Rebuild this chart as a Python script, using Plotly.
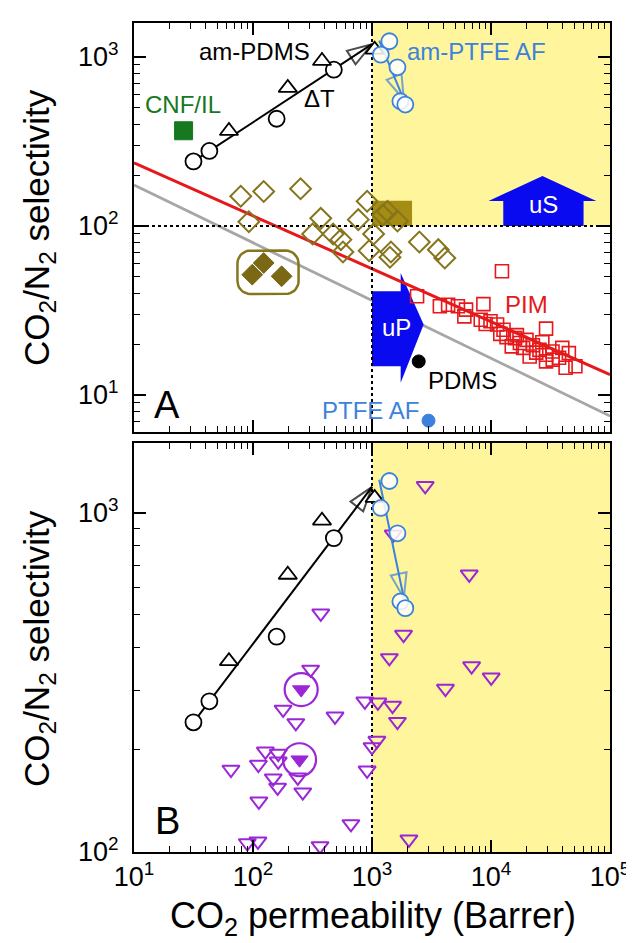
import numpy as np
import plotly.graph_objects as go

# ---------------- data ----------------
# am-PDMS (black)
pdms_circ_x = [31.6, 43, 158, 478]
pdms_circ_y = [241, 278, 431, 841]
pdms_tri_x = [62.8, 196, 380, 1052]
pdms_tri_y = [365, 656, 947, 1105]
pdms_trend_x = [31.6, 1000]
pdms_trend_y = [241, 1190]

# am-PTFE AF (blue)
ptfe_circ_x = [1400, 1186, 1636, 1733, 1905]
ptfe_circ_y = [1239, 1032, 869, 547, 523]
ptfe_trend_x = [1150, 1850]
ptfe_trend_y = [1250, 560]

# single reference materials
cnf_x, cnf_y = [26.1], [366]
pdms_x, pdms_y = [2470], [15.8]
ptfeaf_x, ptfeaf_y = [2985], [7.05]

# olive open diamonds
olive_x = [78.9, 123, 251, 92.3, 371, 317, 471, 548, 570, 767, 910, 1032, 945,
           1232, 1350, 1636, 1442, 1415, 2500, 3606, 4090]
olive_y = [150, 160, 166, 106, 111, 89.7, 89.7, 83, 70.2, 109, 140, 89.7, 71.4,
           116, 122, 107, 70.2, 65.3, 80.4, 72.4, 64.6]
# olive filled diamonds (circled group)
olivef_x = [123, 98.5, 174]
olivef_y = [60.4, 51.5, 50.4]

# PIM (red squares)
pim_x = [12360, 2392, 3718, 4363, 5271, 6166, 5971, 8630, 8200, 9900, 11250, 9016,
         12740, 11970, 15920, 17490, 19860, 29020, 14940, 22500, 25550, 29020, 32880,
         39720, 45100, 37330, 42360, 51200, 29020, 21130, 18620, 27000, 33000, 24000,
         16500, 13500]
pim_y = [54.0, 38.4, 33.5, 34.2, 33.5, 32.0, 29.2, 34.5, 27.9, 27.3, 26.1, 26.3,
         24.3, 23.0, 21.7, 20.3, 21.2, 24.7, 19.4, 19.7, 18.5, 17.3, 18.1,
         19.0, 17.7, 16.6, 14.5, 14.8, 15.8, 16.9, 19.0, 20.5, 16.2, 17.8,
         22.6, 22.0]

# purple triangles (panel B)
purple_x = [2800, 1509, 6565, 371, 1841, 1399, 6873, 10040, 4142, 305, 179, 229, 489,
            871, 1120, 1489, 1636, 1099, 1000, 910, 65.3, 111, 127, 163, 163, 148,
            161, 238, 262, 112, 665, 89.6, 110, 366, 2042]
purple_y = [1199, 863, 658, 505, 437, 373, 353, 327, 303, 345, 263, 240, 251,
            278, 276, 270, 242, 213, 204, 174, 175, 181, 198, 195, 185, 165,
            155, 166, 150, 141, 121, 106.3, 107.5, 104.2, 109]
purplef_x = [254, 246]
purplef_y = [301, 187]

# upper bounds
ub2008_x = [10, 1e5]
ub2008_y = [236, 13.2]
ub1991_x = [10, 1e5]
ub1991_y = [175, 7.5]

# targets
target_P = 1000
target_S = 100
x_lim = [10, 1e5]
yA_lim = [10 ** 0.781, 10 ** 3.201]
yB_lim = [100, 10 ** 3.205]

# decorative regions
box_x = [1000, 2170]
box_y = [100, 141]
cluster_x = [74, 241.5]
cluster_y = [39.6, 71.5]
uS_x = [12680, 59970, 59970, 76740, 27050, 9530, 12680, 12680]
uS_y = [100, 100, 140.6, 140.6, 197.7, 140.6, 140.6, 100]
uP_x = [1000, 1742, 1742, 2716, 1742, 1742, 1000, 1000]
uP_y = [41.1, 41.1, 52.7, 26.1, 11.8, 14.8, 14.8, 41.1]

xtick_vals = [10, 100, 1000, 1e4, 1e5]
xtick_text = ['10<sup>1</sup>', '10<sup>2</sup>', '10<sup>3</sup>', '10<sup>4</sup>', '10<sup>5</sup>']
yA_tick_vals = [10, 100, 1000]
yA_tick_text = ['10<sup>1</sup>', '10<sup>2</sup>', '10<sup>3</sup>']
yB_tick_vals = [100, 1000]
yB_tick_text = ['10<sup>2</sup>', '10<sup>3</sup>']

# ---------------- style ----------------
FONT = "Liberation Sans, Arial, sans-serif"
YELLOW = "#fff59c"
OLIVE = "#85751c"
OLIVE_F = "#7a6814"
BOXC = "#a58c12"
RED = "#e5191b"
GRAY = "#a6a6a6"
BLUE_L = "#3c82dc"
BLUE_B = "#0a0af0"
PURPLE = "#9b26d6"
GREEN = "#16791f"

W, H = 634, 943
ML, MR, MT, MB = 126, 22, 15, 99
plot_h = H - MT - MB
domA = [(844 - 424) / plot_h, 1.0]
domB = [0.0, (844 - 435) / plot_h]

fig = go.Figure()


def add(tr, panel):
    if panel == 'A':
        tr.update(xaxis='x', yaxis='y')
    else:
        tr.update(xaxis='x2', yaxis='y2')
    fig.add_trace(tr)


def poly(xs, ys, color, panel):
    add(go.Scatter(x=xs, y=ys, mode='lines', fill='toself', fillcolor=color,
                   line=dict(width=0, color=color), hoverinfo='skip', showlegend=False), panel)


def line(xs, ys, color, width, dash, panel):
    add(go.Scatter(x=xs, y=ys, mode='lines', line=dict(color=color, width=width, dash=dash),
                   hoverinfo='skip', showlegend=False), panel)


def markers(xs, ys, symbol, size, color, fill, lw, panel):
    add(go.Scatter(x=xs, y=ys, mode='markers',
                   marker=dict(symbol=symbol, size=size, color=fill,
                               line=dict(color=color, width=lw)),
                   showlegend=False), panel)


def arrow_line(xs, ys, color, panel):
    add(go.Scatter(x=xs, y=ys, mode='lines+markers', line=dict(color=color, width=2),
                   marker=dict(symbol=['circle', 'arrow-open'], size=[0, 26],
                               angleref='previous', color=color,
                               line=dict(color=color, width=2)),
                   hoverinfo='skip', showlegend=False), panel)


# pixel per decade (for the rounded outline)
ppd_x = (W - ML - MR) / (np.log10(x_lim[1]) - np.log10(x_lim[0]))
ppd_yA = plot_h * (domA[1] - domA[0]) / (np.log10(yA_lim[1]) - np.log10(yA_lim[0]))


def rounded_rect(xr, yr, r_px=13, n=10):
    lx0, lx1 = np.log10(xr)
    ly0, ly1 = np.log10(yr)
    rx, ry = r_px / ppd_x, r_px / ppd_yA
    corners = [(lx1 - rx, ly1 - ry, 0, 90), (lx0 + rx, ly1 - ry, 90, 180),
               (lx0 + rx, ly0 + ry, 180, 270), (lx1 - rx, ly0 + ry, 270, 360)]
    px, py = [], []
    for cx, cy, a0, a1 in corners:
        t = np.radians(np.linspace(a0, a1, n))
        px += list(cx + rx * np.cos(t))
        py += list(cy + ry * np.sin(t))
    px.append(px[0]); py.append(py[0])
    return 10 ** np.array(px), 10 ** np.array(py)


# ---------- Panel A ----------
poly([target_P, x_lim[1], x_lim[1], target_P, target_P],
     [target_S, target_S, yA_lim[1], yA_lim[1], target_S], YELLOW, 'A')
poly([box_x[0], box_x[1], box_x[1], box_x[0], box_x[0]],
     [box_y[0], box_y[0], box_y[1], box_y[1], box_y[0]], BOXC, 'A')
poly(uS_x, uS_y, BLUE_B, 'A')
line(ub1991_x, ub1991_y, GRAY, 2.8, 'solid', 'A')
poly(uP_x, uP_y, BLUE_B, 'A')
line(ub2008_x, ub2008_y, RED, 3, 'solid', 'A')
line(x_lim, [target_S, target_S], 'black', 2, 'dot', 'A')
line([target_P, target_P], yA_lim, 'black', 2, 'dot', 'A')

rx_, ry_ = rounded_rect(cluster_x, cluster_y)
line(list(rx_), list(ry_), OLIVE, 2.5, 'solid', 'A')
markers(olivef_x, olivef_y, 'diamond', 16, OLIVE_F, OLIVE_F, 1, 'A')
markers(olive_x, olive_y, 'diamond', 16, OLIVE, 'rgba(0,0,0,0)', 2, 'A')
markers(pim_x, pim_y, 'square', 13, RED, 'rgba(0,0,0,0)', 1.6, 'A')
markers(cnf_x, cnf_y, 'square', 18, GREEN, GREEN, 1, 'A')
markers(pdms_x, pdms_y, 'circle', 13, 'black', 'black', 1, 'A')
markers(ptfeaf_x, ptfeaf_y, 'circle', 13, BLUE_L, BLUE_L, 1, 'A')

arrow_line(pdms_trend_x, pdms_trend_y, 'black', 'A')
markers(pdms_circ_x, pdms_circ_y, 'circle', 16, 'black', 'white', 1.8, 'A')
markers(pdms_tri_x, pdms_tri_y, 'triangle-up', 16, 'black', 'white', 1.8, 'A')
arrow_line(ptfe_trend_x, ptfe_trend_y, BLUE_L, 'A')
markers(ptfe_circ_x, ptfe_circ_y, 'circle', 16, BLUE_L, 'rgba(255,255,255,0.85)', 1.8, 'A')

# ---------- Panel B ----------
poly([target_P, x_lim[1], x_lim[1], target_P, target_P],
     [yB_lim[0], yB_lim[0], yB_lim[1], yB_lim[1], yB_lim[0]], YELLOW, 'B')
line([target_P, target_P], yB_lim, 'black', 2, 'dot', 'B')
markers(purple_x, purple_y, 'triangle-down-open', 15, PURPLE, PURPLE, 2, 'B')
markers(purplef_x, purplef_y, 'triangle-down', 15, PURPLE, PURPLE, 1, 'B')
markers(purplef_x, purplef_y, 'circle-open', 33, PURPLE, PURPLE, 2.2, 'B')
arrow_line(pdms_trend_x, pdms_trend_y, 'black', 'B')
markers(pdms_circ_x, pdms_circ_y, 'circle', 16, 'black', 'white', 1.8, 'B')
markers(pdms_tri_x, pdms_tri_y, 'triangle-up', 16, 'black', 'white', 1.8, 'B')
arrow_line(ptfe_trend_x, ptfe_trend_y, BLUE_L, 'B')
markers(ptfe_circ_x, ptfe_circ_y, 'circle', 16, BLUE_L, 'rgba(255,255,255,0.85)', 1.8, 'B')


# ---------- axes ----------
def minor_vals(lo, hi):
    vals = []
    for e in range(int(np.floor(np.log10(lo))) - 1, int(np.ceil(np.log10(hi))) + 1):
        for m in range(2, 10):
            v = m * 10 ** e
            if lo <= v <= hi:
                vals.append(v)
    return vals


def axis(rng, tv, tt, show_labels, domain, anchor, minor, standoff):
    return dict(type='log', range=[np.log10(rng[0]), np.log10(rng[1])], domain=domain,
                anchor=anchor, showline=True, linecolor='black', linewidth=2,
                mirror='ticks', ticks='inside', ticklen=12, tickwidth=1.5, tickcolor='black',
                tickmode='array', tickvals=tv, ticktext=tt, showticklabels=show_labels,
                tickfont=dict(family=FONT, size=27, color='black'),
                ticklabelstandoff=standoff,
                showgrid=False, zeroline=False,
                minor=dict(ticks='inside', ticklen=6, tickwidth=1.3, tickcolor='black',
                           tickmode='array', tickvals=minor, showgrid=False))


fig.update_layout(
    width=W, height=H, margin=dict(l=ML, r=MR, t=MT, b=MB),
    paper_bgcolor='white', plot_bgcolor='white', showlegend=False,
    font=dict(family=FONT, color='black'),
    xaxis=axis(x_lim, xtick_vals, xtick_text, False, [0, 1], 'y', minor_vals(*x_lim), 0),
    yaxis=axis(yA_lim, yA_tick_vals, yA_tick_text, True, domA, 'x', minor_vals(*yA_lim), 8),
    xaxis2=axis(x_lim, xtick_vals, xtick_text, True, [0, 1], 'y2', minor_vals(*x_lim), 0),
    yaxis2=axis(yB_lim, yB_tick_vals, yB_tick_text, True, domB, 'x2', minor_vals(*yB_lim), 8),
)

L = np.log10
ann = []


def txt(text, x, y, color, size, ref='A', **kw):
    xr, yr = ('x', 'y') if ref == 'A' else ('x2', 'y2')
    ann.append(dict(text=text, x=L(x), y=L(y), xref=xr, yref=yr, showarrow=False,
                    font=dict(family=FONT, size=size, color=color),
                    xanchor='center', yanchor='middle', **kw))


txt('am-PDMS', 103, 10 ** 3.035, 'black', 24)
txt('ΔT', 10 ** 2.56, 10 ** 2.757, 'black', 24)
txt('am-PTFE AF', 10 ** 3.88, 10 ** 3.035, BLUE_L, 24)
txt('CNF/IL', 10 ** 1.41, 10 ** 2.716, GREEN, 24)
txt('PIM', 10 ** 4.30, 10 ** 1.533, RED, 24)
txt('PDMS', 10 ** 3.757, 10 ** 1.083, 'black', 24)
txt('PTFE AF', 10 ** 2.99, 10 ** 0.911, BLUE_L, 24)
txt('uS', 10 ** 4.44, 10 ** 2.125, 'white', 24)
txt('uP', 10 ** 3.21, 10 ** 1.40, 'white', 24)

ann.append(dict(text='A', xref='x domain', yref='y domain', x=0.07, y=0.066,
                showarrow=False, font=dict(family=FONT, size=38, color='black'),
                xanchor='center', yanchor='middle'))
ann.append(dict(text='B', xref='x2 domain', yref='y2 domain', x=0.07, y=0.076,
                showarrow=False, font=dict(family=FONT, size=38, color='black'),
                xanchor='center', yanchor='middle'))

pw = W - ML - MR
ann.append(dict(text='CO<sub>2</sub>/N<sub>2</sub> selectivity', xref='paper', yref='paper',
                x=(29 - ML) / pw, y=(844 - 219) / plot_h, textangle=-90, showarrow=False,
                font=dict(family=FONT, size=35, color='black'), xanchor='center', yanchor='middle'))
ann.append(dict(text='CO<sub>2</sub>/N<sub>2</sub> selectivity', xref='paper', yref='paper',
                x=(29 - ML) / pw, y=(844 - 640) / plot_h, textangle=-90, showarrow=False,
                font=dict(family=FONT, size=35, color='black'), xanchor='center', yanchor='middle'))
ann.append(dict(text='CO<sub>2</sub> permeability (Barrer)', xref='paper', yref='paper',
                x=(370 - ML) / pw, y=(844 - 910) / plot_h, showarrow=False,
                font=dict(family=FONT, size=36, color='black'), xanchor='center', yanchor='middle'))

fig.update_layout(annotations=ann)
fig.write_html("out.html")
